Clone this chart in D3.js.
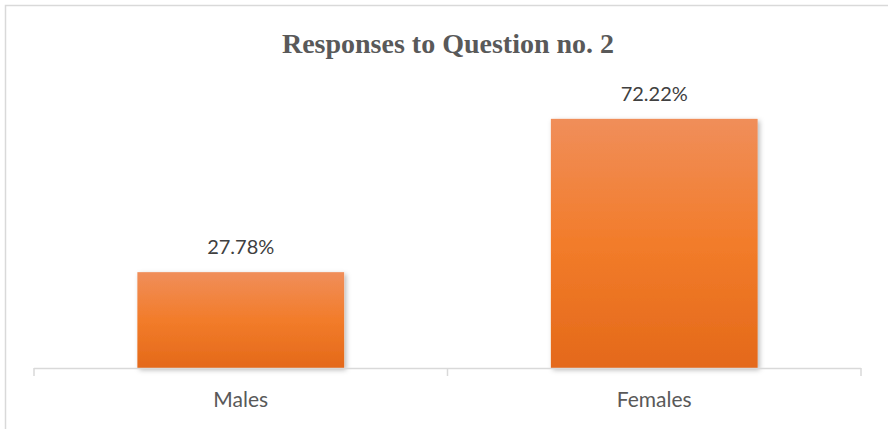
<!DOCTYPE html>
<html>
<head>
<meta charset="utf-8">
<script src="https://cdn.jsdelivr.net/npm/d3@7"></script>
<style>
  html, body { margin: 0; padding: 0; background: #fff; }
  svg { display: block; }
</style>
</head>
<body>
<svg id="chart" width="888" height="429"></svg>
<script>
// Chart data
const categories = ["Males", "Females"];
const values = [27.78, 72.22];
const valueLabels = ["27.78%", "72.22%"];
const chartTitle = "Responses to Question no. 2";

const svg = d3.select("#chart");
const W = 888, H = 429;

// Outer chart frame
svg.append("rect")
  .attr("x", 5.5).attr("y", 5.5)
  .attr("width", W).attr("height", H)
  .attr("fill", "#fff")
  .attr("stroke", "#d9d9d9")
  .attr("stroke-width", 1.5);

const plot = { left: 34, right: 861, top: 92, bottom: 368 };

const x = d3.scaleBand()
  .domain(categories)
  .range([plot.left, plot.right])
  .paddingInner(0.5)
  .paddingOuter(0.25);

const y = d3.scaleLinear()
  .domain([0, 80])
  .range([plot.bottom, plot.top]);

const defs = svg.append("defs");
const grad = defs.append("linearGradient")
  .attr("id", "barFill")
  .attr("x1", 0).attr("y1", 0).attr("x2", 0).attr("y2", 1);
grad.append("stop").attr("offset", "0%").attr("stop-color", "#f08e5a");
grad.append("stop").attr("offset", "50%").attr("stop-color", "#f27c2a");
grad.append("stop").attr("offset", "100%").attr("stop-color", "#e4691a");

const shadow = defs.append("filter")
  .attr("id", "barShadow")
  .attr("x", "-10%").attr("y", "-10%")
  .attr("width", "130%").attr("height", "130%");
shadow.append("feDropShadow")
  .attr("dx", 2).attr("dy", 2)
  .attr("stdDeviation", 2.5)
  .attr("flood-color", "#000")
  .attr("flood-opacity", 0.28);

// Bars
svg.append("g")
  .selectAll("rect")
  .data(values)
  .join("rect")
  .attr("x", (d, i) => x(categories[i]))
  .attr("y", d => y(d))
  .attr("width", x.bandwidth())
  .attr("height", d => y(0) - y(d))
  .attr("fill", "url(#barFill)")
  .attr("filter", "url(#barShadow)");

// Category axis
const axis = d3.axisBottom(x).tickSize(0).tickPadding(0);
const gx = svg.append("g")
  .attr("transform", `translate(0,${plot.bottom})`)
  .call(axis);
gx.select(".domain").remove();
gx.selectAll(".tick text").remove();

gx.append("line")
  .attr("x1", plot.left).attr("x2", plot.right)
  .attr("y1", 0.5).attr("y2", 0.5)
  .attr("stroke", "#d9d9d9").attr("stroke-width", 1.5);

// Tick marks at category boundaries
const boundaries = [plot.left, (plot.left + plot.right) / 2, plot.right];
gx.selectAll(".boundary")
  .data(boundaries)
  .join("line")
  .attr("class", "boundary")
  .attr("x1", d => d).attr("x2", d => d)
  .attr("y1", 0).attr("y2", 8)
  .attr("stroke", "#d9d9d9").attr("stroke-width", 1.5);

// Category labels
svg.append("g")
  .selectAll("text")
  .data(categories)
  .join("text")
  .attr("x", d => x(d) + x.bandwidth() / 2)
  .attr("y", 407)
  .attr("text-anchor", "middle")
  .attr("font-family", "Lato, 'Open Sans', sans-serif")
  .attr("font-size", 21)
  .attr("fill", "#595959")
  .text(d => d);

// Value labels
svg.append("g")
  .selectAll("text")
  .data(values)
  .join("text")
  .attr("x", (d, i) => x(categories[i]) + x.bandwidth() / 2)
  .attr("y", d => y(d) - 18)
  .attr("text-anchor", "middle")
  .attr("font-family", "Lato, 'Open Sans', sans-serif")
  .attr("font-size", 20)
  .attr("fill", "#404040")
  .text((d, i) => valueLabels[i]);

// Title
svg.append("text")
  .attr("x", (plot.left + plot.right) / 2 + 0.5)
  .attr("y", 53)
  .attr("text-anchor", "middle")
  .attr("font-family", "'Liberation Serif', 'Times New Roman', serif")
  .attr("font-weight", "bold")
  .attr("font-size", 28)
  .attr("fill", "#595959")
  .text(chartTitle);
</script>
</body>
</html>
